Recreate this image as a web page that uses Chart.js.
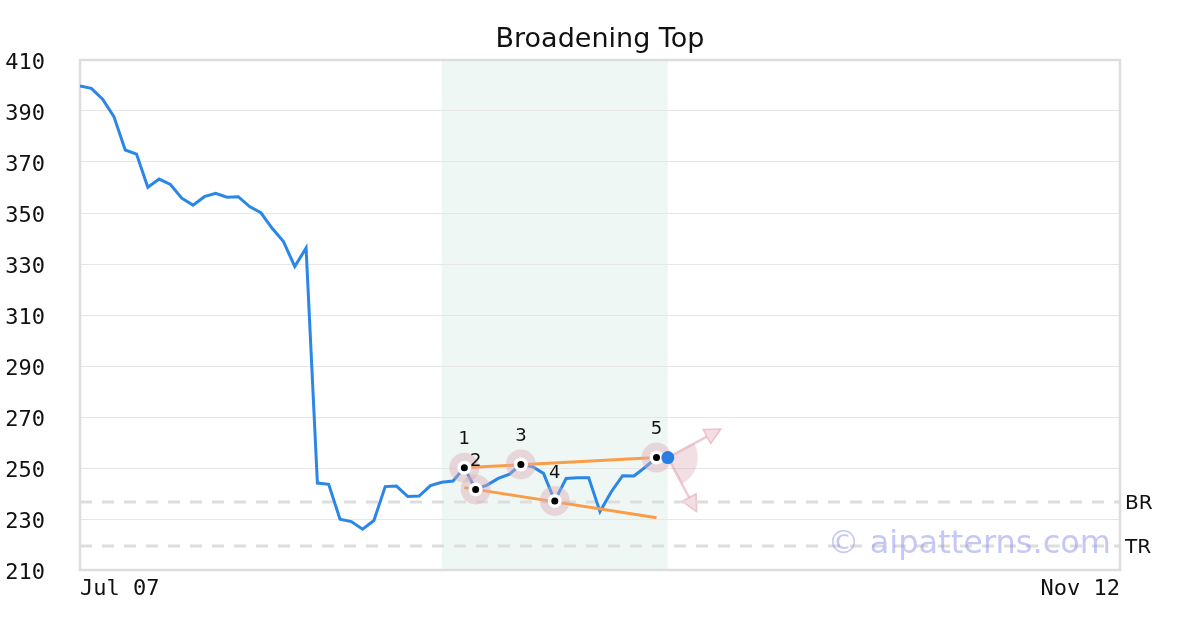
<!DOCTYPE html>
<html>
<head>
<meta charset="utf-8">
<script src="https://cdn.jsdelivr.net/npm/chart.js@4/dist/chart.umd.min.js"></script>
<style>
  html, body { margin: 0; padding: 0; background: #fff; }
  #wrap { width: 1200px; height: 630px; }
</style>
</head>
<body>
<div id="wrap"><canvas id="chart" width="1200" height="630"></canvas></div>
<script>
// price series, one value per trading day (index 0 = Jul 07)
const prices = [
  399.8, 398.9, 394.6, 387.8, 374.7, 373.1, 360.1, 363.3, 361.2, 355.8,
  353.1, 356.4, 357.7, 356.2, 356.4, 352.5, 350.1, 344.0, 338.8, 329.0,
  336.3, 244.1, 243.6, 229.9, 229.0, 226.0, 229.4, 242.7, 242.9, 238.8,
  239.0, 243.1, 244.4, 244.9, 250.1, 241.6, 243.3, 245.9, 247.6, 251.4,
  250.6, 247.9, 237.1, 245.9, 246.2, 246.2, 232.9, 240.7, 247.0, 246.9,
  250.3, 254.1, 254.1
];
const lastIndex = 92;                 // Nov 12
const xTickPositions = [0, 92];
const xTickLabels = ['Jul 07', 'Nov 12'];
const yMin = 210, yMax = 410, yStep = 20;
const chartTitle = 'Broadening Top';

// pattern pivots
const pivotIndex = [34, 35, 39, 42, 51];
const pivotLabels = ['1', '2', '3', '4', '5'];
const patternRange = [32, 52];        // shaded window

// trend lines [startIndex, startValue, endIndex, endValue]
const upperLine = [34, 250.1, 51, 254.1];
const lowerLine = [34, 242.3, 51, 230.5];

// horizontal reference levels
const levelNames = ['BR', 'TR'];
const levelValues = [236.7, 219.4];

// projection arrows from the last point
const arrowTargets = [[56.7, 265.3], [54.55, 232.9]];

const PINK = 'rgba(222, 170, 182, 0.42)';
const mono = 'DejaVu Sans Mono';
const sans = 'DejaVu Sans';

const lineData = prices.map((v, i) => ({ x: i, y: v }));
const pivotData = pivotIndex.map(i => ({ x: i, y: prices[i] }));
const lastPt = { x: prices.length - 1, y: prices[prices.length - 1] };

const levelSets = levelValues.map((v, k) => ({
  label: levelNames[k],
  data: [{ x: 0, y: v }, { x: lastIndex, y: v }],
  borderColor: '#dddddd',
  borderWidth: 3,
  borderDash: [12, 10],
  pointRadius: 0,
  order: 6
}));

const decorations = {
  id: 'decorations',
  beforeDraw(chart) {
    const { ctx, chartArea, scales } = chart;
    const x0 = scales.x.getPixelForValue(patternRange[0]);
    const x1 = scales.x.getPixelForValue(patternRange[1]);
    ctx.save();
    ctx.fillStyle = '#eef7f3';
    ctx.fillRect(x0, chartArea.top, x1 - x0, chartArea.bottom - chartArea.top);
    // title, centred over the plot
    ctx.fillStyle = '#111';
    ctx.font = '27px "' + sans + '"';
    ctx.textAlign = 'center';
    ctx.textBaseline = 'middle';
    ctx.fillText(chartTitle, (chartArea.left + chartArea.right) / 2, 40);
    ctx.restore();
  },
  beforeDatasetsDraw(chart) {
    const { ctx, chartArea, scales } = chart;
    const xs = scales.x, ys = scales.y;
    ctx.save();
    ctx.strokeStyle = '#dddddd';
    ctx.lineWidth = 2.5;
    ctx.strokeRect(chartArea.left, chartArea.top, chartArea.right - chartArea.left, chartArea.bottom - chartArea.top);

    // projection wedge + arrows
    const cx = xs.getPixelForValue(lastPt.x), cy = ys.getPixelForValue(lastPt.y);
    const ends = arrowTargets.map(t => [xs.getPixelForValue(t[0]), ys.getPixelForValue(t[1])]);
    const a0 = Math.atan2(ends[0][1] - cy, ends[0][0] - cx);
    const a1 = Math.atan2(ends[1][1] - cy, ends[1][0] - cx);
    ctx.fillStyle = 'rgba(222, 170, 182, 0.38)';
    ctx.beginPath();
    ctx.moveTo(cx, cy);
    ctx.arc(cx, cy, 30, a0, a1);
    ctx.closePath();
    ctx.fill();

    ctx.strokeStyle = 'rgba(225, 165, 182, 0.6)';
    ctx.fillStyle = 'rgba(235, 190, 200, 0.5)';
    ends.forEach(([ex, ey]) => {
      const ang = Math.atan2(ey - cy, ex - cx);
      const len = 16, half = 8;
      const bx = ex - Math.cos(ang) * len, by = ey - Math.sin(ang) * len;
      ctx.lineWidth = 2.5;
      ctx.beginPath();
      ctx.moveTo(cx, cy);
      ctx.lineTo(bx, by);
      ctx.stroke();
      ctx.beginPath();
      ctx.moveTo(ex, ey);
      ctx.lineTo(bx - Math.sin(ang) * half, by + Math.cos(ang) * half);
      ctx.lineTo(bx + Math.sin(ang) * half, by - Math.cos(ang) * half);
      ctx.closePath();
      ctx.fill();
      ctx.lineWidth = 1.5;
      ctx.stroke();
    });
    ctx.restore();
  },
  afterDatasetsDraw(chart) {
    const { ctx, chartArea, scales } = chart;
    const xs = scales.x, ys = scales.y;
    ctx.save();

    // pivot numbers
    ctx.fillStyle = '#111';
    ctx.font = '18px "' + sans + '"';
    ctx.textAlign = 'center';
    ctx.textBaseline = 'middle';
    pivotIndex.forEach((idx, k) => {
      ctx.fillText(pivotLabels[k], xs.getPixelForValue(idx), ys.getPixelForValue(prices[idx]) - 28);
    });

    // level labels on the right
    ctx.font = '20px "' + sans + '"';
    ctx.textAlign = 'left';
    levelValues.forEach((v, k) => {
      ctx.fillText(levelNames[k], chartArea.right + 5, ys.getPixelForValue(v) + 2);
    });
    ctx.restore();
  },
  afterDraw(chart) {
    const { ctx } = chart;
    ctx.save();
    ctx.fillStyle = 'rgba(140, 145, 240, 0.5)';
    ctx.font = '32px "' + sans + '"';
    ctx.textAlign = 'right';
    ctx.textBaseline = 'alphabetic';
    ctx.fillText('\u00a9 aipatterns.com', 1111, 553);
    ctx.restore();
  }
};

new Chart(document.getElementById('chart'), {
  type: 'line',
  data: {
    datasets: [
      { label: 'last', data: [lastPt], pointRadius: 6.5, pointBackgroundColor: '#2a7de1', pointBorderWidth: 0, showLine: false, order: 0 },
      { label: 'pivot dot', data: pivotData, pointRadius: 3.5, pointBackgroundColor: '#000', pointBorderWidth: 0, showLine: false, order: 1 },
      { label: 'pivot ring', data: pivotData, pointRadius: 7, pointBackgroundColor: '#fff', pointBorderWidth: 0, showLine: false, order: 2 },
      { label: 'pivot halo', data: pivotData, pointRadius: 15, pointBackgroundColor: PINK, pointBorderWidth: 0, showLine: false, order: 3 },
      { label: 'upper', data: [{ x: upperLine[0], y: upperLine[1] }, { x: upperLine[2], y: upperLine[3] }], borderColor: '#fb9d47', borderWidth: 3, pointRadius: 0, order: 4 },
      { label: 'lower', data: [{ x: lowerLine[0], y: lowerLine[1] }, { x: lowerLine[2], y: lowerLine[3] }], borderColor: '#fb9d47', borderWidth: 3, pointRadius: 0, order: 4 },
      { label: 'price', data: lineData, borderColor: '#2a87e8', borderWidth: 3, pointRadius: 0, tension: 0, order: 5 },
      ...levelSets
    ]
  },
  options: {
    responsive: false,
    devicePixelRatio: 1,
    animation: false,
    layout: { padding: { left: 0, right: 80, top: 60, bottom: 0 } },
    plugins: {
      legend: { display: false },
      tooltip: { enabled: false },
      title: { display: false }
    },
    scales: {
      x: {
        type: 'linear',
        min: 0,
        max: lastIndex,
        grid: { display: false, drawTicks: false },
        border: { display: false },
        afterBuildTicks(scale) { scale.ticks = xTickPositions.map(v => ({ value: v })); },
        afterFit(scale) { scale.height = 60; },
        ticks: {
          align: 'inner',
          autoSkip: false,
          maxRotation: 0,
          padding: 6,
          color: '#111',
          font: { family: mono, size: 22 },
          callback: v => xTickLabels[xTickPositions.indexOf(v)]
        }
      },
      y: {
        min: yMin,
        max: yMax,
        grid: { color: '#e6e6e6', lineWidth: 1, drawTicks: false },
        border: { display: false },
        afterFit(scale) { scale.width = 80; },
        ticks: {
          stepSize: yStep,
          padding: 35,
          labelOffset: 3,
          color: '#111',
          font: { family: mono, size: 22 }
        }
      }
    }
  },
  plugins: [decorations]
});
</script>
</body>
</html>
